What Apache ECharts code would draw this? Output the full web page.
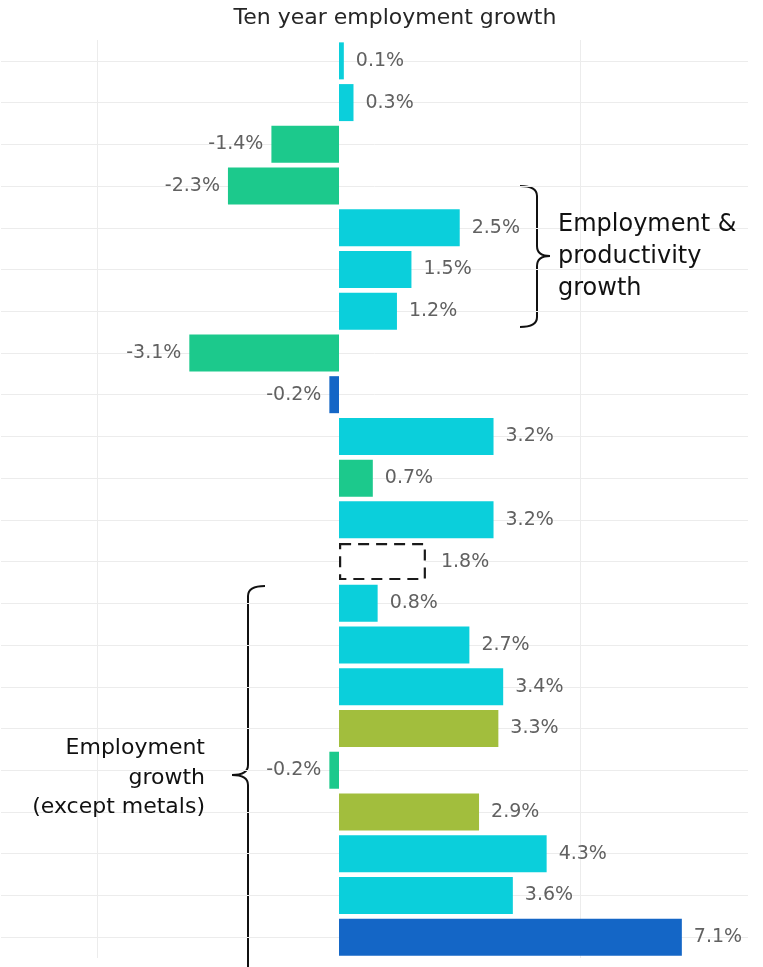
<!DOCTYPE html>
<html><head><meta charset="utf-8">
<script src="https://cdn.jsdelivr.net/npm/echarts@6/dist/echarts.min.js"></script>
<style>html,body{margin:0;padding:0;background:#fff}#c{width:763px;height:967px}</style>
</head><body><div id="c"></div>
<script>
// ---- data ----
const rows = ['R1','R2','R3','R4','R5','R6','R7','R8','R9','R10','R11','R12','R13','R14','R15','R16','R17','R18','R19','R20','R21','R22'];
const growth = [0.1,0.3,-1.4,-2.3,2.5,1.5,1.2,-3.1,-0.2,3.2,0.7,3.2,1.8,0.8,2.7,3.4,3.3,-0.2,2.9,4.3,3.6,7.1];
const group = ['A','A','B','B','A','A','A','B','C','A','B','A','P','A','A','A','D','B','D','A','A','C'];
const titleText = 'Ten year employment growth';
const noteRight = ['Employment &','productivity','growth'];
const noteLeft = ['Employment','growth','(except metals)'];
const refLinesX = [-5, 5];

// ---- styles ----
const FONT = 'DejaVu Sans';
const groupStyle = {
  A: {color:'#0BCFDB'},
  B: {color:'#1CC98C'},
  C: {color:'#1466C6'},
  D: {color:'#A2BE3D'},
  P: {color:'#ffffff', borderColor:'#1a1a1a', borderWidth:2.2, borderType:[11,7]}
};

const chart = echarts.init(document.getElementById('c'));
const barData = growth.map((v,i)=>({
  value: v,
  itemStyle: groupStyle[group[i]],
  label: {position: v < 0 ? 'left' : 'right', distance: group[i]==='P' ? 15 : (v < 0 ? 8 : 12)}
}));

// brace built from lines and quadratic curves
// dir: +1 => tip points right, -1 => tip points left
function brace(x, top, bottom, mid, dir, armLen, tipLen) {
  const st = {stroke:'#111', lineWidth:2, fill:null};
  const r = 10;
  const xa = x - dir*armLen, xt = x + dir*tipLen;
  const els = [
    {type:'bezierCurve', shape:{x1:xa, y1:top, cpx1:x, cpy1:top, x2:x, y2:top+r}, style:st},
    {type:'line', shape:{x1:x, y1:top+r, x2:x, y2:mid-r}, style:st},
    {type:'bezierCurve', shape:{x1:x, y1:mid-r, cpx1:x, cpy1:mid, x2:xt, y2:mid}, style:st},
    {type:'bezierCurve', shape:{x1:xt, y1:mid, cpx1:x, cpy1:mid, x2:x, y2:mid+r}, style:st},
    {type:'line', shape:{x1:x, y1:mid+r, x2:x, y2:bottom-r}, style:st}
  ];
  if (bottom < 967) els.push({type:'bezierCurve', shape:{x1:x, y1:bottom-r, cpx1:x, cpy1:bottom, x2:xa, y2:bottom}, style:st});
  else els[4].shape.y2 = bottom;
  return {type:'group', silent:true, z:100, children:els};
}

chart.setOption({
  animation:false,
  backgroundColor:'#fff',
  grid:{left:1, right:15, top:40, bottom:9},
  xAxis:{type:'value', min:-7, max:8.47, axisLine:{show:false}, axisTick:{show:false}, axisLabel:{show:false}, splitLine:{show:false}},
  yAxis:{type:'category', data:rows, inverse:true, axisLine:{show:false}, axisTick:{show:false}, axisLabel:{show:false}, splitLine:{show:false}},
  series:[
    {
      type:'bar', z:2, barWidth:37, data:barData,
      label:{show:true, color:'#616161', fontFamily:FONT, fontSize:19,
        formatter:p=>p.value.toFixed(1)+'%'},
      markLine:{
        silent:true, symbol:'none', label:{show:false}, animation:false, z:0,
        lineStyle:{color:'#ececec', type:'solid', width:1},
        data: rows.map(r=>({yAxis:r})).concat(refLinesX.map(x=>({xAxis:x})))
      }
    }
  ],
  graphic:[
    {type:'text', x:395, y:18, z:100, silent:true, style:{text:titleText, font:'22px "'+FONT+'"', fill:'#262626', align:'center', verticalAlign:'middle'}},
    brace(537, 186, 327, 256, 1, 17, 13),
    brace(248, 586, 970, 775, -1, 17, 16),
    {type:'text', x:558, y:257, z:100, silent:true, style:{text:noteRight.join('\n'), font:'24px "'+FONT+'"', fill:'#111', lineHeight:32, verticalAlign:'middle', backgroundColor:'transparent'}},
    {type:'text', x:205, y:778, z:100, silent:true, style:{text:noteLeft.join('\n'), font:'22px "'+FONT+'"', fill:'#111', lineHeight:29.5, align:'right', verticalAlign:'middle'}}
  ]
});
</script>
</body></html>
